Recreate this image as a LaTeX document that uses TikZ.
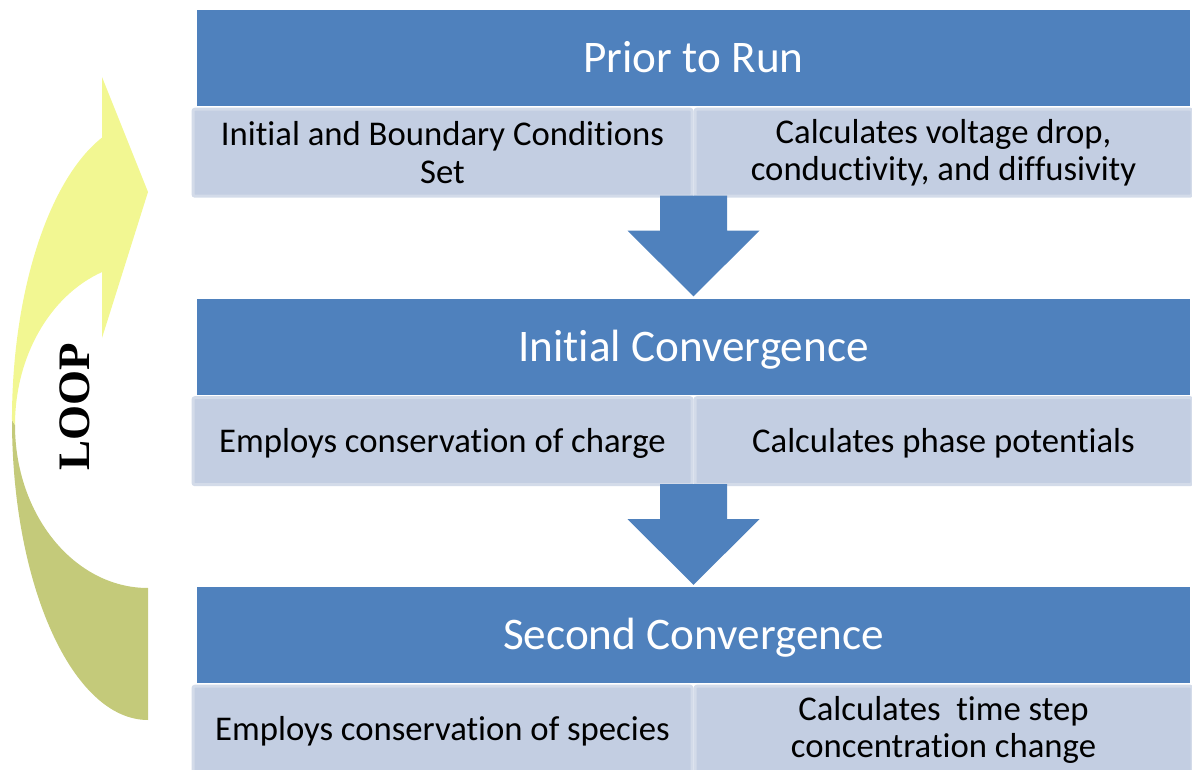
\documentclass[tikz,border=0pt]{standalone}
\usepackage{fontspec}
\setmainfont{Carlito}[Ligatures=NoCommon]
\newfontfamily\loopserif{Liberation Serif}
\usetikzlibrary{positioning,calc}
\definecolor{cStage}{HTML}{4F81BD}
\definecolor{cStepFill}{HTML}{C3CEE2}
\definecolor{cStepBorder}{HTML}{D3DBE9}
\definecolor{cLoopFront}{HTML}{F2F792}
\definecolor{cLoopBack}{HTML}{C4CA7A}
\tikzset{
  stageHead/.style={fill=cStage, text=white, inner sep=0pt,
                    minimum width=993pt, minimum height=96pt,
                    text height=29pt, text depth=0pt,
                    font=\fontsize{45.2}{50}\selectfont},
  stepCell/.style={draw=cStepBorder, line width=3pt, fill=cStepFill,
                   rounded corners=2pt, minimum height=87pt, inner sep=0pt,
                   align=center, font=\fontsize{34.7}{37.5}\selectfont},
  stepLine/.style={stepCell, text height=22.3pt, text depth=0pt},
  flowArrow/.style={fill=cStage},
  loopLbl/.style={font=\loopserif\bfseries\fontsize{45}{50}\selectfont, rotate=90},
}
% block arrow from the bottom of one row down to the next stage head
\newcommand{\stageArrow}[2]{%
  \fill[flowArrow] ([xshift=-33.5pt,yshift=2pt]#1) -- ([xshift=33.5pt,yshift=2pt]#1)
    -- ([xshift=33.5pt,yshift=-33pt]#1) -- ([xshift=66pt,yshift=-33pt]#1)
    -- ([yshift=2pt]#2) -- ([xshift=-66pt,yshift=-33pt]#1)
    -- ([xshift=-33.5pt,yshift=-33pt]#1) -- cycle;}

\begin{document}
\begin{tikzpicture}[x=1pt, y=-1pt]
\useasboundingbox (0,0) rectangle (1192,770);

% ========== LOOP ARROW ==========
% back (lower) half of the curl
\fill[cLoopBack] (12,420) arc[start angle=180, end angle=90, x radius=136, y radius=300]
  -- (148,588) arc[start angle=90, end angle=180, x radius=133, y radius=163] -- cycle;
% front (upper) half with the head
\fill[cLoopFront] (102,272) -- (102,338) -- (148,192) -- (102,77) -- (102,137.6)
  arc[start angle=250.24, end angle=180, x radius=136, y radius=300]
  -- (15,425) arc[start angle=180, end angle=249.76, x radius=133, y radius=163] -- cycle;
\node[loopLbl] (loop) at (75,407) {LOOP};

% ========== STAGE 1 ==========
\node[stageHead] (h1) at (693.5,58) {Prior to Run};
\node[stepCell, minimum width=499pt, anchor=north east] (p1a) at ([yshift=-1.5pt]h1.south)
  {Initial and Boundary Conditions\\Set};
\node[stepCell, minimum width=497pt, anchor=north west] (p1b) at ([yshift=-1.5pt]h1.south)
  {Calculates voltage drop,\\conductivity, and diffusivity};

% ========== STAGE 2 ==========
\node[stageHead] (h2) at (693.5,346.5) {Initial Convergence};
\node[stepLine, minimum width=499pt, anchor=north east] (p2a) at ([yshift=-1.5pt]h2.south)
  {Employs conservation of charge};
\node[stepLine, minimum width=497pt, anchor=north west] (p2b) at ([yshift=-1.5pt]h2.south)
  {Calculates phase potentials};

% ========== STAGE 3 ==========
\node[stageHead] (h3) at (693.5,635) {Second Convergence};
\node[stepLine, minimum width=499pt, anchor=north east] (p3a) at ([yshift=-1.5pt]h3.south)
  {Employs conservation of species};
\node[stepCell, minimum width=497pt, anchor=north west] (p3b) at ([yshift=-1.5pt]h3.south)
  {Calculates\ \ time step\\concentration change};

% arrows between stages
\stageArrow{p1a.south east}{h2.north}
\stageArrow{p2a.south east}{h3.north}

\end{tikzpicture}
\end{document}
